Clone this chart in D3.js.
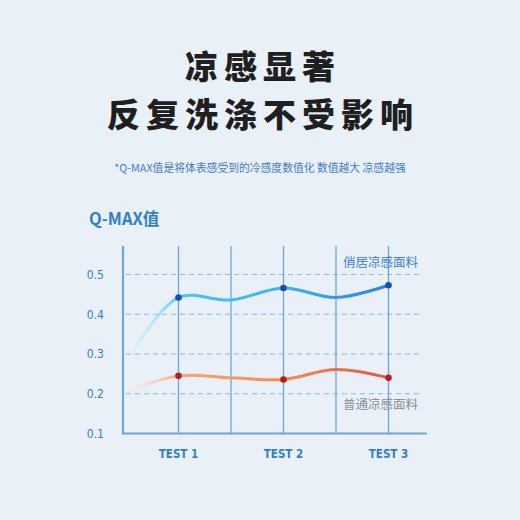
<!DOCTYPE html>
<html><head><meta charset="utf-8">
<script src="https://cdn.jsdelivr.net/npm/d3@7/dist/d3.min.js"></script>
<style>
html,body{margin:0;padding:0;background:#e9f0f8;}
svg{display:block;}
</style></head>
<body>
<svg id="c" width="520" height="520"></svg>
<script>
// ---- data ----
const categories = ["TEST 1", "TEST 2", "TEST 3"];
const categoryPos = [1, 2, 3];
const curveStops = [0.55, 1, 1.5, 2, 2.5, 3];
const premiumValues = [0.302, 0.442, 0.436, 0.466, 0.442, 0.473];
const regularValues = [0.209, 0.245, 0.240, 0.236, 0.261, 0.240];
const yTicks = [0.1, 0.2, 0.3, 0.4, 0.5];
const gridY = [0.2, 0.3, 0.4, 0.5];
const gridX = [1, 1.5, 2, 2.5, 3];
const seriesNames = ["俏居凉感面料", "普通凉感面料"];
const titleLines = ["凉感显著", "反复洗涤不受影响"];
const subtitle = "*Q-MAX值是将体表感受到的冷感度数值化 数值越大 凉感越强";
const yTitle = "Q-MAX值";

const svg = d3.select("#c");
const cjk = "'Noto Sans CJK SC','Noto Sans',sans-serif";
const cond = "'DejaVu Sans Condensed','DejaVu Sans',sans-serif";

svg.append("rect").attr("width",520).attr("height",520).attr("fill","#e9f0f8");

// titles
svg.selectAll("text.t").data(titleLines).enter().append("text")
  .attr("x",263).attr("y",(d,i)=>78.5+i*48)
  .attr("text-anchor","middle").attr("font-family",cjk).attr("font-weight",900)
  .attr("font-size",33).attr("letter-spacing",6).attr("fill","#1f1f1f").text(d=>d);

svg.append("text").attr("x",260).attr("y",172).attr("text-anchor","middle")
  .attr("font-family",cjk).attr("font-size",10.8).attr("fill","#3f7fc0").text(subtitle);

svg.append("text").attr("x",89).attr("y",225)
  .attr("font-family",cjk).attr("font-weight",700).attr("font-size",16.5).attr("fill","#2f80c8").text(yTitle);

const x = d3.scaleLinear().domain([0.5,3]).range([126,388.5]);
const y = d3.scaleLinear().domain([0.1,0.5]).range([433.5,274.5]);

// horizontal dashed grid
svg.selectAll("line.gy").data(gridY).enter().append("line")
  .attr("x1",126).attr("x2",420).attr("y1",d=>y(d)).attr("y2",d=>y(d))
  .attr("stroke","#8fb8dc").attr("stroke-width",1.1).attr("stroke-dasharray","5,4");

// vertical grid
svg.selectAll("line.gx").data(gridX).enter().append("line")
  .attr("x1",d=>x(d)).attr("x2",d=>x(d)).attr("y1",246).attr("y2",y(0.1))
  .attr("stroke","#6fa5d6").attr("stroke-width",1.3);

// axes lines
svg.append("line").attr("x1",123).attr("x2",123).attr("y1",246).attr("y2",y(0.1)+1)
  .attr("stroke","#6fa5d6").attr("stroke-width",2.2);
svg.append("line").attr("x1",122).attr("x2",427).attr("y1",y(0.1)).attr("y2",y(0.1))
  .attr("stroke","#6fa5d6").attr("stroke-width",2.2);

// y tick labels
svg.selectAll("text.yt").data(yTicks).enter().append("text")
  .attr("x",104).attr("y",d=>y(d)).attr("dy","0.36em").attr("text-anchor","end")
  .attr("font-family",cond).attr("font-size",12).attr("fill","#3a7cc2").text(d=>d.toFixed(1));

// x labels
svg.selectAll("text.xt").data(categories).enter().append("text")
  .attr("x",(d,i)=>x(categoryPos[i])).attr("y",458).attr("text-anchor","middle")
  .attr("font-family",cond).attr("font-weight",700).attr("font-size",11.5).attr("fill","#2f80c8").text(d=>d);

// gradients
const defs = svg.append("defs");
function grad(id, stops){
  const g = defs.append("linearGradient").attr("id",id).attr("gradientUnits","userSpaceOnUse")
    .attr("x1",x(0.55)).attr("x2",x(3)).attr("y1",0).attr("y2",0);
  stops.forEach(s=>g.append("stop").attr("offset",s[0]).attr("stop-color",s[1]).attr("stop-opacity",s[2]));
}
grad("gb",[[0,"#cdeefc",0.35],[0.12,"#8fdaf8",0.8],[0.2,"#45c6f5",1],[0.6,"#3ab2f4",1],[1,"#2c7ef0",1]]);
grad("go",[[0,"#fde2d4",0.3],[0.12,"#fbbd96",0.8],[0.2,"#f9a46e",1],[0.6,"#f68b4d",1],[1,"#e15646",1]]);

const line = d3.line().x((d,i)=>x(curveStops[i])).y(d=>y(d)).curve(d3.curveCatmullRom.alpha(0.5));

svg.append("path").attr("d",line(premiumValues)).attr("fill","none")
  .attr("stroke","url(#gb)").attr("stroke-width",3).attr("stroke-linecap","round");
svg.append("path").attr("d",line(regularValues)).attr("fill","none")
  .attr("stroke","url(#go)").attr("stroke-width",3).attr("stroke-linecap","round");

// dots
const dotIdx = categoryPos.map(p=>curveStops.indexOf(p));
svg.selectAll("circle.b").data(dotIdx).enter().append("circle")
  .attr("cx",i=>x(curveStops[i])).attr("cy",i=>y(premiumValues[i])).attr("r",3.3).attr("fill","#174fae");
svg.selectAll("circle.o").data(dotIdx).enter().append("circle")
  .attr("cx",i=>x(curveStops[i])).attr("cy",i=>y(regularValues[i])).attr("r",3.3).attr("fill","#be1a1e");

// series labels
svg.append("text").attr("x",418).attr("y",267).attr("text-anchor","end")
  .attr("font-family",cjk).attr("font-size",12.5).attr("fill","#3a82c8").text(seriesNames[0]);
svg.append("text").attr("x",418).attr("y",409).attr("text-anchor","end")
  .attr("font-family",cjk).attr("font-size",12.5).attr("fill","#8a8f96").text(seriesNames[1]);
</script>
</body></html>
